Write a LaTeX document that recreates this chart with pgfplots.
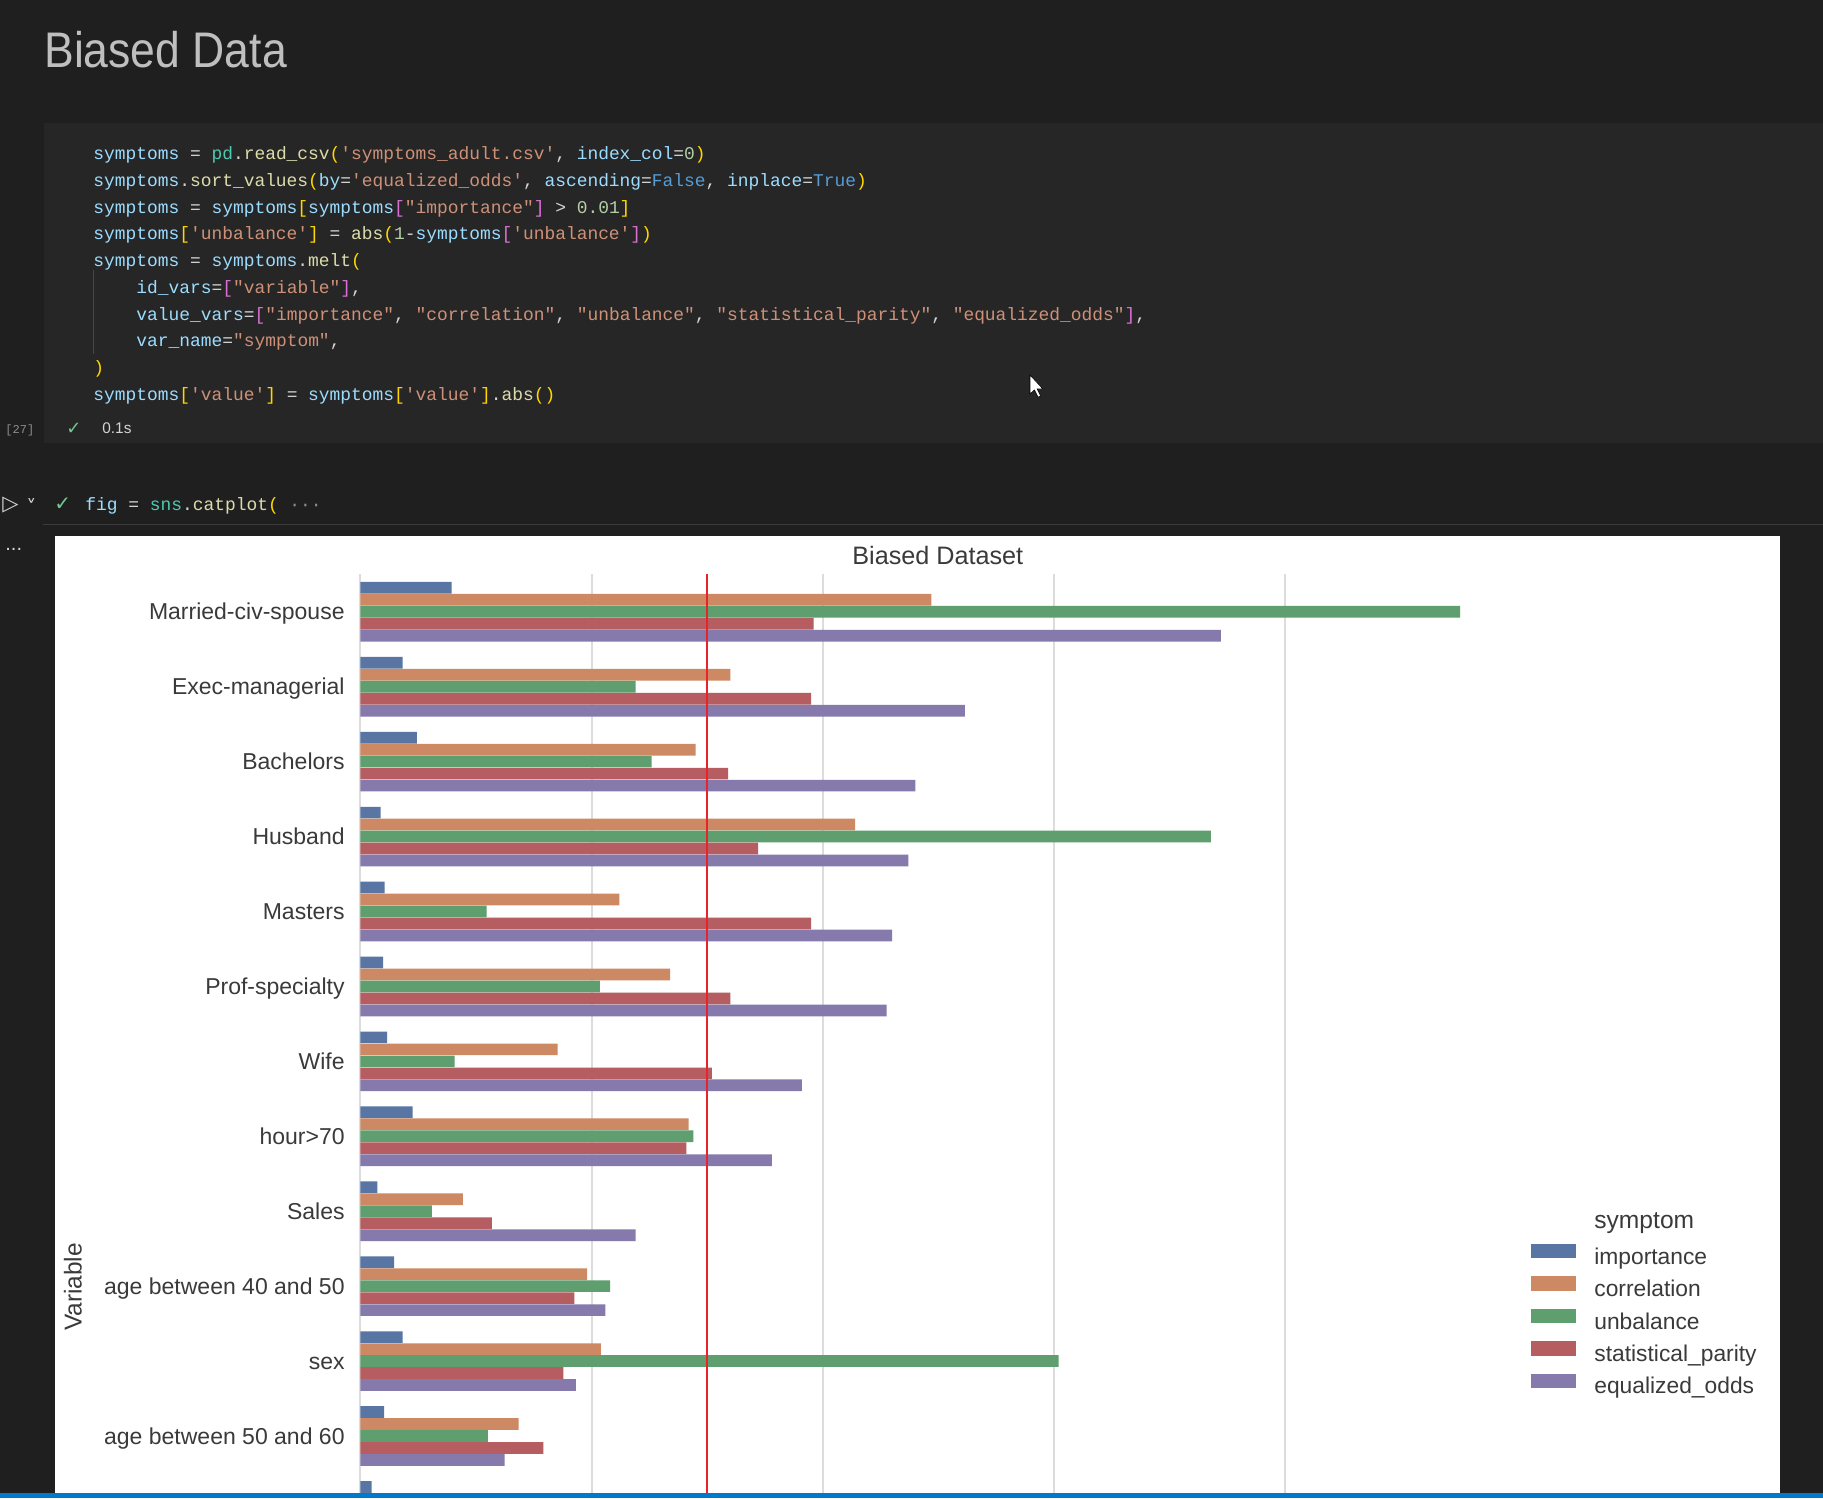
\documentclass[border=0pt]{standalone}
\usepackage{pgfplots}
\pgfplotsset{compat=1.18}
\usepackage{pgfplotstable}
\usepackage{graphicx}
\usepackage{fontspec}
\setmainfont{Liberation Sans}
\setmonofont{Liberation Mono}
\newfontfamily\djv{DejaVu Sans}

\definecolor{bg}{HTML}{1F1F1F}
\definecolor{cellbg}{HTML}{262626}
\definecolor{ctext}{HTML}{D4D4D4}
\definecolor{cvar}{HTML}{9CDCFE}
\definecolor{cfun}{HTML}{DCDCAA}
\definecolor{cstr}{HTML}{CE9178}
\definecolor{cnum}{HTML}{B5CEA8}
\definecolor{ckw}{HTML}{569CD6}
\definecolor{cmod}{HTML}{4EC9B0}
\definecolor{cbra}{HTML}{FFD700}
\definecolor{cbrb}{HTML}{DA70D6}
\definecolor{cgray}{HTML}{8C8C8C}
\definecolor{cok}{HTML}{73C991}
\definecolor{vsblue}{HTML}{007ACC}
\definecolor{tcol}{HTML}{3A3A3A}
\definecolor{gridc}{HTML}{DCDCDC}
\definecolor{cimp}{HTML}{5975A4}
\definecolor{ccor}{HTML}{CC8963}
\definecolor{cunb}{HTML}{5F9E6E}
\definecolor{csp}{HTML}{B55D60}
\definecolor{ceo}{HTML}{857AAB}
\definecolor{redline}{HTML}{E8242A}

\newcommand\cv[1]{\textcolor{cvar}{#1}}
\newcommand\cf[1]{\textcolor{cfun}{#1}}
\newcommand\cs[1]{\textcolor{cstr}{#1}}
\newcommand\cn[1]{\textcolor{cnum}{#1}}
\newcommand\ck[1]{\textcolor{ckw}{#1}}
\newcommand\cm[1]{\textcolor{cmod}{#1}}
\newcommand\cb[1]{\textcolor{cbra}{#1}}
\newcommand\cp[1]{\textcolor{cbrb}{#1}}
\newcommand\codefont{\fontsize{8.95}{10}\ttfamily}
\newcommand\codeline[3]{\node[anchor=base west, inner sep=0pt, text=ctext, font=\codefont] at (#1pt,-#2pt) {#3};}

\pgfplotstableread{
idx imp corr unb sp eo
0 0.0395 0.247 0.4757 0.196 0.3722
1 0.0183 0.160 0.119 0.195 0.2615
2 0.0244 0.145 0.126 0.159 0.240
3 0.0087 0.214 0.3679 0.172 0.237
4 0.0105 0.112 0.0546 0.195 0.230
5 0.0098 0.134 0.1036 0.160 0.2276
6 0.0116 0.0853 0.0407 0.152 0.191
7 0.0226 0.142 0.144 0.141 0.178
8 0.0073 0.0443 0.0309 0.0569 0.119
9 0.0146 0.0981 0.108 0.0926 0.106
10 0.0183 0.104 0.302 0.0878 0.0932
11 0.0103 0.0684 0.0551 0.0791 0.0624
12 0.0048 nan nan nan nan
}\datatable

\pgfplotsset{mybar/.style={xbar, bar width=0.156, draw=none,
  legend image code/.code={\fill[##1,/tikz/.cd,draw=none] (0pt,0pt) rectangle (22.5pt,7.2pt);}}}

\begin{document}
\begin{tikzpicture}
\path[use as bounding box] (0,0) rectangle (911.5pt,-749pt);
\fill[bg] (0,0) rectangle (911.5pt,-749pt);
% notebook markdown title
\node[anchor=base west, inner sep=0pt, text=ctext!90!black, font=\fontsize{25}{28}\selectfont] at (22pt,-34pt) {\scalebox{0.89}[1]{Biased Data}};
% code cell
\fill[cellbg] (21.8pt,-61.5pt) rectangle (911.5pt,-221.5pt);
\draw[color=black!72, line width=0.5pt] (46.6pt,-135pt) -- (46.6pt,-177pt);
\codeline{46.5}{80}{\cv{symptoms} = \cm{pd}.\cf{read\_csv}\cb{(}\cs{'symptoms\_adult.csv'}, \cv{index\_col}=\cn{0}\cb{)}}
\codeline{46.5}{93.33}{\cv{symptoms}.\cf{sort\_values}\cb{(}\cv{by}=\cs{'equalized\_odds'}, \cv{ascending}=\ck{False}, \cv{inplace}=\ck{True}\cb{)}}
\codeline{46.5}{106.67}{\cv{symptoms} = \cv{symptoms}\cb{[}\cv{symptoms}\cp{[}\cs{"importance"}\cp{]} > \cn{0.01}\cb{]}}
\codeline{46.5}{120}{\cv{symptoms}\cb{[}\cs{'unbalance'}\cb{]} = \cf{abs}\cb{(}\cn{1}-\cv{symptoms}\cp{[}\cs{'unbalance'}\cp{]}\cb{)}}
\codeline{46.5}{133.33}{\cv{symptoms} = \cv{symptoms}.\cf{melt}\cb{(}}
\codeline{68}{146.67}{\cv{id\_vars}=\cp{[}\cs{"variable"}\cp{]},}
\codeline{68}{160}{\cv{value\_vars}=\cp{[}\cs{"importance"}, \cs{"correlation"}, \cs{"unbalance"}, \cs{"statistical\_parity"}, \cs{"equalized\_odds"}\cp{]},}
\codeline{68}{173.33}{\cv{var\_name}=\cs{"symptom"},}
\codeline{46.5}{186.67}{\cb{)}}
\codeline{46.5}{200}{\cv{symptoms}\cb{[}\cs{'value'}\cb{]} = \cv{symptoms}\cb{[}\cs{'value'}\cb{]}.\cf{abs}\cb{()}}
% cell status
\node[anchor=base west, inner sep=0pt, text=cgray, font=\fontsize{6}{7}\ttfamily] at (2.5pt,-216.5pt) {[27]};
\node[anchor=base west, inner sep=0pt, text=cok, font=\fontsize{9}{10}\djv] at (33pt,-217pt) {✓};
\node[anchor=base west, inner sep=0pt, text=ctext, font=\fontsize{7.7}{9}\selectfont] at (51pt,-216.5pt) {0.1s};
% mouse cursor
\fill[white, draw=black, line width=0.3pt] (515pt,-187.5pt) -- (515pt,-197pt) -- (517.2pt,-195pt) -- (519pt,-198.6pt) -- (520.3pt,-198pt) -- (518.6pt,-194.5pt) -- (521.5pt,-194.5pt) -- cycle;
% second cell header
\node[anchor=base west, inner sep=0pt, text=ctext, font=\fontsize{10.5}{12}\djv] at (1pt,-255pt) {▷};
\node[anchor=base west, inner sep=0pt, text=ctext, font=\fontsize{10}{11}\djv] at (13pt,-257pt) {˅};
\node[anchor=base west, inner sep=0pt, text=cok, font=\fontsize{10}{12}\djv] at (27pt,-255.3pt) {✓};
\codeline{42.5}{255.3}{\cv{fig} = \cm{sns}.\cf{catplot}\cb{(} \textcolor{cgray}{···}}
\draw[color=white!23!black, line width=0.5pt] (21.5pt,-262pt) -- (911.5pt,-262pt);
\node[anchor=base west, inner sep=0pt, text=ctext, font=\fontsize{10}{12}\selectfont] at (2.5pt,-275pt) {...};
% white figure panel
\fill[white] (27.3pt,-268pt) rectangle (890pt,-746.5pt);
\fill[vsblue] (0pt,-746.5pt) rectangle (911.5pt,-749pt);
\node[rotate=90, inner sep=0pt, text=tcol, font=\fontsize{12.2}{14}\selectfont] at (36.5pt,-643.5pt) {Variable};
\begin{axis}[
  at={(180.2pt,-516.825pt)}, anchor=west,
  width=577.4pt, height=459.35pt, scale only axis,
  xmin=0, xmax=0.4995, ymin=-0.5, ymax=11.761, y dir=reverse,
  axis line style={draw=none}, tick style={draw=none},
  xtick={0,0.1,0.2,0.3,0.4}, xticklabels={},
  ytick={0,1,2,3,4,5,6,7,8,9,10,11},
  yticklabels={Married-civ-spouse,Exec-managerial,Bachelors,Husband,Masters,Prof-specialty,Wife,hour>70,Sales,age between 40 and 50,sex,age between 50 and 60},
  xmajorgrids=true, ymajorgrids=false,
  major grid style={color=gridc, line width=1pt},
  yticklabel style={font=\fontsize{11.5}{13}\selectfont, text=tcol, inner sep=0pt, anchor=base east, xshift=-7.7pt, yshift=-4.1pt},
  title={Biased Dataset},
  title style={at={(0.5,1)}, anchor=base, yshift=-1pt, inner sep=0pt, font=\fontsize{12.6}{14}\selectfont, text=tcol},
  legend cell align=left,
  legend style={at={(1.0133,0.3027)}, anchor=north west, draw=none, fill=none,
    inner sep=0pt, outer sep=0pt, row sep=3.5pt, column sep=9.4pt,
    font=\fontsize{11.4}{13}\selectfont, text=tcol,
    nodes={inner sep=0pt, text height=8.5pt, text depth=2.5pt}},
]
\addlegendimage{empty legend}
\addlegendentry{\raisebox{1.5pt}{\fontsize{12.3}{14}\selectfont symptom}}
\addplot[mybar, bar shift=-0.32, fill=cimp] table[x=imp, y=idx] {\datatable};
\addlegendentry{importance}
\addplot[mybar, bar shift=-0.16, fill=ccor] table[x=corr, y=idx] {\datatable};
\addlegendentry{correlation}
\addplot[mybar, bar shift=0, fill=cunb] table[x=unb, y=idx] {\datatable};
\addlegendentry{unbalance}
\addplot[mybar, bar shift=0.16, fill=csp] table[x=sp, y=idx] {\datatable};
\addlegendentry{statistical\_parity}
\addplot[mybar, bar shift=0.32, fill=ceo] table[x=eo, y=idx] {\datatable};
\addlegendentry{equalized\_odds}
\addplot[forget plot, color=redline, line width=1.25pt] coordinates {(0.15,-0.6) (0.15,11.9)};
\end{axis}
\end{tikzpicture}
\end{document}
